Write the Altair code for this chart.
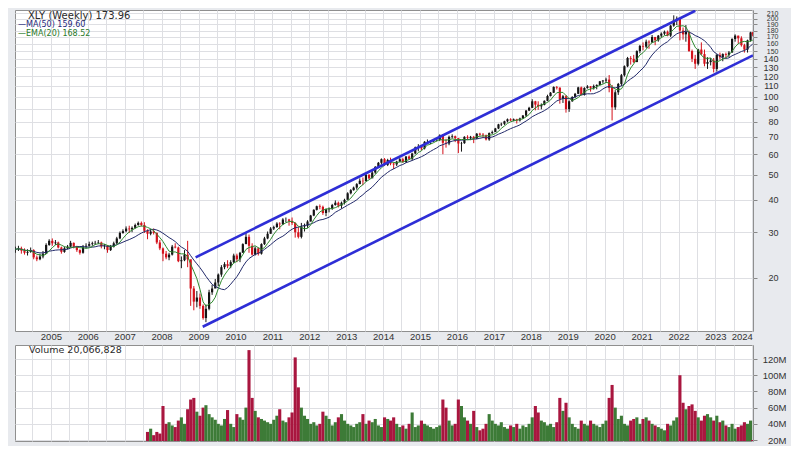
import altair as alt
import pandas as pd
import numpy as np

# ---------------- data (monthly) ----------------
years = list(range(2004, 2024))
first_open = 25.6

close = [
    25.8, 26.0, 25.5, 25.0, 25.2, 25.6, 24.0, 23.6, 24.2, 24.8, 26.8, 27.8,        # 2004
    27.2, 27.4, 26.2, 25.2, 26.0, 26.4, 27.3, 26.4, 25.6, 25.0, 26.4, 26.6,        # 2005
    27.0, 27.2, 27.3, 27.4, 26.5, 26.6, 25.6, 26.4, 27.2, 28.4, 29.8, 30.3,        # 2006
    31.0, 30.8, 31.2, 32.0, 32.6, 32.0, 30.4, 29.6, 30.2, 29.8, 27.4, 26.0,        # 2007
    24.8, 24.0, 24.6, 26.4, 26.2, 23.2, 23.4, 24.6, 23.6, 18.2, 16.2, 16.8,        # 2008
    15.6, 14.0, 15.2, 17.6, 18.2, 19.2, 20.6, 22.0, 22.6, 22.2, 23.0, 24.4,        # 2009
    23.6, 25.0, 27.0, 28.8, 26.6, 24.6, 26.0, 24.8, 27.0, 28.4, 29.6, 31.0,        # 2010
    31.4, 32.4, 32.2, 33.6, 33.6, 33.2, 32.6, 30.0, 28.8, 31.6, 31.8, 33.0,        # 2011
    34.8, 36.6, 37.8, 37.6, 35.6, 36.8, 37.0, 38.2, 39.0, 38.0, 39.0, 40.0,        # 2012
    42.4, 43.6, 44.6, 46.0, 47.4, 47.2, 50.0, 48.4, 51.0, 53.6, 55.6, 57.4,        # 2013
    54.6, 57.0, 55.2, 54.8, 56.2, 57.4, 56.0, 58.8, 57.6, 60.4, 63.8, 64.0,        # 2014
    63.2, 67.0, 67.0, 67.2, 68.0, 68.2, 71.0, 66.4, 66.0, 70.0, 70.4, 69.2,        # 2015
    66.0, 66.2, 70.0, 69.4, 70.0, 69.0, 72.0, 71.4, 71.0, 68.4, 72.4, 73.0,        # 2016
    75.4, 78.2, 78.6, 80.4, 81.8, 81.0, 81.8, 81.0, 82.4, 84.6, 88.4, 90.6,        # 2017
    96.0, 93.2, 91.8, 93.0, 96.4, 100.6, 103.6, 109.0, 108.4, 98.0, 100.4, 89.6,   # 2018
    96.0, 99.8, 102.6, 108.6, 101.6, 108.0, 109.6, 108.2, 110.0, 111.0, 114.6, 115.4,  # 2019
    116.4, 108.0, 91.0, 104.0, 112.0, 121.0, 131.0, 141.0, 140.0, 136.0, 150.0, 157.0, # 2020
    156.0, 163.0, 162.0, 170.0, 165.0, 172.0, 175.0, 178.0, 172.0, 188.0, 197.0, 200.0, # 2021
    180.0, 174.0, 178.0, 150.0, 140.0, 134.0, 152.0, 146.0, 134.0, 136.0, 138.0, 128.0, # 2022
    145.0, 142.0, 146.0, 145.0, 148.0, 167.0, 172.0, 168.0, 158.0, 152.0, 165.0, 177.0, # 2023
    173.96,                                                                          # 2024
]

high = [
    26.4, 26.6, 26.4, 26.0, 25.8, 26.2, 25.8, 24.4, 24.8, 25.4, 27.2, 28.2,
    28.4, 28.0, 27.6, 26.4, 26.4, 26.8, 27.8, 27.4, 26.6, 25.8, 26.8, 27.2,
    27.6, 27.6, 27.8, 28.0, 27.6, 27.0, 26.8, 26.8, 27.6, 28.8, 30.2, 30.8,
    31.6, 31.8, 31.6, 32.4, 33.0, 33.0, 32.8, 30.8, 30.8, 31.0, 30.0, 28.0,
    26.2, 25.4, 25.0, 26.8, 27.2, 26.4, 24.2, 25.6, 27.8, 23.4, 18.6, 17.8,
    17.4, 15.8, 15.8, 18.0, 18.8, 19.8, 20.8, 22.4, 23.0, 23.4, 23.4, 24.8,
    24.8, 25.2, 27.2, 29.9, 29.4, 27.2, 26.4, 26.2, 27.2, 28.8, 30.2, 31.4,
    31.8, 32.8, 32.8, 34.0, 34.2, 33.8, 34.2, 32.8, 31.4, 32.6, 32.4, 33.4,
    35.0, 36.8, 38.0, 38.4, 38.0, 37.0, 37.4, 38.6, 39.8, 39.4, 39.4, 40.4,
    42.8, 44.0, 45.0, 46.4, 48.4, 48.8, 50.4, 50.2, 51.8, 54.0, 56.0, 57.8,
    58.0, 57.6, 58.2, 55.8, 56.6, 58.0, 58.2, 59.0, 59.4, 60.8, 64.2, 65.6,
    65.0, 67.4, 68.4, 68.0, 68.6, 69.0, 71.6, 71.8, 68.8, 70.8, 71.6, 70.8,
    69.2, 67.0, 70.4, 71.0, 70.6, 70.6, 72.4, 72.6, 72.4, 71.4, 72.8, 74.0,
    75.8, 78.6, 79.4, 80.8, 82.4, 82.6, 82.4, 82.2, 83.0, 85.0, 88.8, 91.4,
    97.8, 96.4, 96.0, 94.2, 96.8, 101.8, 104.2, 109.6, 110.0, 108.6, 101.6, 101.4,
    96.8, 100.4, 103.4, 109.2, 109.4, 108.8, 110.8, 110.0, 111.4, 111.6, 115.0, 116.0,
    118.4, 121.2, 111.0, 106.0, 113.0, 122.4, 132.0, 142.4, 143.4, 145.0, 151.0, 158.4,
    162.0, 166.0, 165.0, 173.0, 170.0, 173.0, 177.0, 180.0, 180.0, 189.0, 206.0, 204.0,
    201.0, 185.0, 189.0, 180.0, 152.0, 145.0, 153.0, 162.0, 152.0, 142.0, 141.0, 141.0,
    146.0, 148.0, 147.0, 148.0, 150.0, 168.0, 174.0, 172.0, 171.0, 160.0, 166.0, 178.0,
    178.0,
]

low = [
    25.0, 25.4, 24.8, 24.6, 24.4, 25.0, 23.6, 23.2, 23.4, 23.8, 24.8, 26.6,
    26.6, 26.8, 26.0, 24.8, 25.0, 25.8, 26.2, 26.0, 25.2, 24.6, 24.8, 26.0,
    26.4, 26.6, 26.8, 27.0, 26.0, 25.8, 25.0, 25.4, 26.2, 27.0, 28.2, 29.6,
    30.0, 29.8, 30.0, 31.0, 31.8, 31.6, 29.8, 28.2, 29.2, 29.4, 27.0, 25.6,
    23.2, 23.6, 23.4, 24.4, 26.0, 23.0, 21.8, 23.2, 22.0, 15.6, 15.0, 15.4,
    15.2, 13.8, 13.5, 15.0, 17.2, 18.4, 18.6, 20.2, 21.6, 21.8, 21.8, 22.8,
    23.0, 23.0, 25.0, 27.0, 25.0, 24.4, 24.4, 24.4, 24.6, 26.8, 28.2, 29.6,
    30.6, 31.2, 30.8, 32.0, 32.8, 31.8, 32.0, 28.6, 28.4, 28.4, 30.2, 31.2,
    33.0, 34.6, 36.4, 36.8, 35.0, 34.6, 35.8, 36.6, 38.0, 37.4, 37.0, 38.4,
    40.4, 42.0, 43.4, 43.8, 46.0, 45.6, 47.2, 48.0, 48.6, 50.4, 53.4, 54.8,
    54.0, 54.0, 54.4, 52.6, 54.0, 55.8, 55.6, 55.6, 57.0, 56.7, 60.0, 61.6,
    62.0, 62.6, 65.6, 65.6, 66.8, 67.2, 67.4, 60.0, 63.6, 65.0, 69.0, 66.8,
    60.6, 61.4, 65.8, 68.6, 68.0, 66.2, 68.6, 70.6, 69.6, 67.8, 67.6, 71.8,
    73.2, 75.0, 77.0, 77.8, 79.6, 80.4, 80.4, 78.8, 80.2, 82.4, 83.6, 88.0,
    90.4, 88.6, 89.0, 89.4, 92.6, 96.0, 100.2, 103.4, 106.6, 94.0, 94.6, 86.8,
    87.4, 95.6, 98.6, 102.4, 101.2, 101.0, 107.4, 104.6, 106.6, 106.8, 110.8, 112.4,
    113.0, 104.0, 81.0, 89.0, 101.6, 110.0, 119.6, 130.0, 133.0, 135.0, 136.0, 147.0,
    151.0, 154.0, 153.0, 161.0, 158.0, 163.0, 169.0, 173.0, 171.0, 170.0, 186.0, 189.0,
    165.0, 166.0, 163.0, 149.0, 136.0, 128.0, 132.0, 145.0, 131.0, 128.0, 132.0, 124.0,
    125.0, 139.0, 137.0, 141.0, 142.0, 148.0, 163.0, 160.0, 156.0, 148.0, 148.0, 163.0,
    171.0,
]

volume_m = [
    4, 5, 5, 4, 4, 4, 5, 5, 4, 4, 5, 5,
    5, 5, 6, 6, 5, 5, 6, 8, 14, 8, 6, 5,
    6, 6, 6, 7, 8, 7, 9, 10, 12, 8, 9, 8,
    9, 8, 11, 10, 9, 12, 18, 30, 34, 26, 30, 28,
    62, 40, 42, 38, 36, 44, 48, 40, 58, 70, 72, 55,
    50, 60, 63, 52, 48, 45, 40, 38, 46, 57, 40, 36,
    52, 48, 45, 60, 131, 72, 56, 48, 46, 44, 42, 40,
    45, 50, 58, 44, 42, 48, 54, 122, 85, 60, 50, 46,
    40, 42, 38, 40, 55, 50, 46, 38, 42, 48, 52, 44,
    40, 38, 36, 40, 42, 52, 40, 44, 42, 46, 38, 36,
    48, 46, 44, 48, 40, 36, 38, 34, 40, 54, 36, 38,
    44, 40, 38, 36, 34, 36, 38, 70, 60, 44, 38, 40,
    70, 62, 48, 44, 40, 56, 36, 32, 34, 40, 52, 44,
    40, 38, 42, 36, 34, 38, 36, 40, 34, 38, 36, 40,
    48, 62, 54, 44, 42, 38, 40, 36, 42, 72, 56, 66,
    48, 40, 36, 34, 44, 40, 38, 44, 40, 38, 36, 40,
    44, 72, 88, 60, 46, 50, 40, 38, 44, 46, 48, 40,
    46, 48, 44, 40, 38, 36, 34, 32, 40, 38, 44, 48,
    100, 66, 58, 62, 64, 56, 48, 44, 50, 52, 48, 44,
    50, 42, 44, 38, 36, 40, 34, 36, 38, 42, 40, 44,
    20,
]

# channel lines (start / end points)
chan_dates = ["2008-12-03", "2022-06-16", "2009-02-11", "2024-01-08"]
chan_values = [24.0, 214.6, 12.96, 144.3]
chan_names = ["upper", "upper", "lower", "lower"]

price_ticks = [20, 30, 40, 50, 60, 70, 80, 90, 100, 110, 120, 130, 140, 150,
               160, 170, 180, 190, 200, 210]
volume_ticks = [20e6, 40e6, 60e6, 80e6, 100e6, 120e6]

title_text = "XLY (Weekly) 173.96"
ma_text = "\u2014MA(50) 159.60"
ema_text = "\u2014EMA(20) 168.52"
vol_text = "Volume 20,066,828"

# ---------------- build tables ----------------
dates = [pd.Timestamp(y, m, 15) for y in years for m in range(1, 13)] + [pd.Timestamp(2024, 1, 5)]
opens = [first_open] + close[:-1]
df = pd.DataFrame({
    "date": dates, "open": opens, "high": high, "low": low, "close": close,
    "vol": [v * 1e6 for v in volume_m],
})
df["dir"] = np.where(df["close"] >= df["open"], "up", "down")
df["vdir"] = df["dir"]

chan_df = pd.DataFrame({"date": pd.to_datetime(chan_dates), "value": chan_values, "line": chan_names})

# ---------------- scales / axes ----------------
xscale = alt.Scale(domain=[alt.DateTime(year=2004, month=1, date=12),
                           alt.DateTime(year=2024, month=1, date=8)])
grid_dates = [alt.DateTime(year=y, month=m, date=1) for y in range(2004, 2025) for m in (1, 7)]

xaxis_main = alt.Axis(values=grid_dates, grid=True, ticks=False, domain=False, title=None,
                      labelExpr="month(datum.value) == 0 ? timeFormat(datum.value, '%Y') : ''",
                      labelPadding=0, labelFontSize=9.5, labelColor="#333333",
                      labelFont="Liberation Sans", labelOverlap=False)
xaxis_vol = alt.Axis(values=grid_dates, grid=True, ticks=False, domain=False, labels=False, title=None)

yscale = alt.Scale(type="log", domain=[12.48, 216.0], nice=False)
yaxis = alt.Axis(orient="right", values=price_ticks, grid=True, title=None, format="d",
                 labelAlign="right", tickSize=4, labelPadding=21, domain=False,
                 labelFontSize={"condition": {"test": "datum.value >= 150", "value": 7}, "value": 9},
                 labelColor="#333333", labelFont="Liberation Sans",
                 labelOverlap=False, tickColor="#888888")

X = alt.X("date:T", scale=xscale, axis=xaxis_main)
cscale = alt.Scale(domain=["up", "down"], range=["#141414", "#d4111b"])

base = alt.Chart(df)
wick = base.mark_rule(strokeWidth=1, clip=True).encode(
    x=X, y=alt.Y("low:Q", scale=yscale, axis=yaxis), y2="high:Q",
    color=alt.Color("dir:N", scale=cscale, legend=None))
body = base.mark_rule(strokeWidth=2.2, clip=True).encode(
    x=X, y=alt.Y("open:Q", scale=yscale, axis=yaxis), y2="close:Q",
    color=alt.Color("dir:N", scale=cscale, legend=None))
ma = base.transform_window(ma="mean(close)", frame=[-11, 0], sort=[alt.SortField("date")]).mark_line(
    color="#222a6a", strokeWidth=1, clip=True).encode(x=X, y=alt.Y("ma:Q", scale=yscale, axis=yaxis))
ema = base.transform_window(ema="mean(close)", frame=[-4, 0], sort=[alt.SortField("date")]).mark_line(
    color="#2f8a2f", strokeWidth=1, clip=True).encode(x=X, y=alt.Y("ema:Q", scale=yscale, axis=yaxis))
chan = alt.Chart(chan_df).mark_line(color="#2e2ed6", strokeWidth=2.6, clip=True).encode(
    x=X, y=alt.Y("value:Q", scale=yscale, axis=yaxis), detail="line:N")

one = pd.DataFrame({"a": [0]})
t1 = alt.Chart(one).mark_text(text=title_text, align="left", baseline="middle", fontSize=10,
                              font="DejaVu Sans", color="#2a2a2a").encode(x=alt.value(13), y=alt.value(6))
t2 = alt.Chart(one).mark_text(text=ma_text, align="left", baseline="middle", fontSize=8,
                              font="DejaVu Sans", color="#1f2a7a").encode(x=alt.value(3), y=alt.value(15))
t3 = alt.Chart(one).mark_text(text=ema_text, align="left", baseline="middle", fontSize=8,
                              font="DejaVu Sans", color="#2a7a2a").encode(x=alt.value(3), y=alt.value(24))

main = alt.layer(wick, body, ma, ema, chan, t1, t2, t3).properties(width=738, height=321)

vscale = alt.Scale(domain=[18.8e6, 137.3e6], nice=False, zero=False)
vaxis = alt.Axis(orient="right", values=volume_ticks, grid=True, title=None,
                 labelExpr="(datum.value / 1000000) + 'M'", labelAlign="right", tickSize=4,
                 labelPadding=29, domain=False, labelFontSize=9.5, labelColor="#333333",
                 labelFont="Liberation Sans", labelOverlap=False, tickColor="#888888")
vbars = alt.Chart(df).mark_rule(strokeWidth=3.1, clip=True).encode(
    x=alt.X("date:T", scale=xscale, axis=xaxis_vol),
    y=alt.Y("vol:Q", scale=vscale, axis=vaxis), y2=alt.datum(0),
    color=alt.Color("vdir:N", scale=alt.Scale(domain=["up", "down"], range=["#3d7b37", "#a9163f"]), legend=None))
vt = alt.Chart(one).mark_text(text=vol_text, align="left", baseline="middle", fontSize=9.5,
                              font="DejaVu Sans", color="#2a2a2a").encode(x=alt.value(14), y=alt.value(5))
volume = alt.layer(vbars, vt).properties(width=738, height=96)

chart = alt.vconcat(main, volume, spacing=14, bounds="flush").resolve_scale(
    color="independent", x="shared"
).properties(
    padding={"left": 6, "top": 0, "right": 4, "bottom": 0},
    background="#e8eaee",
).configure_view(fill="white", stroke="#8f8f8f").configure_axis(
    gridColor="#dedfe3", gridWidth=1)

chart.save("out.html", embed_options={"renderer": "svg", "actions": False})
